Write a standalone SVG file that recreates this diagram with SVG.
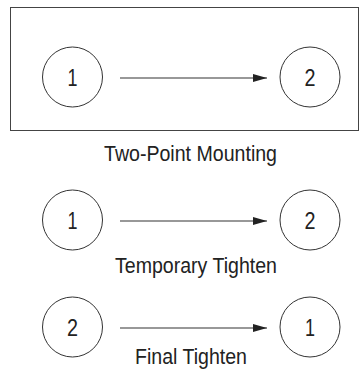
<svg xmlns="http://www.w3.org/2000/svg" width="359" height="369" viewBox="0 0 359 369">
<style>
.c{fill:#fff;stroke:#333;stroke-width:1}
.n{font-family:"Liberation Sans",Arial,sans-serif;font-size:24px;fill:#222;text-anchor:middle}
.t{font-family:"Liberation Sans",Arial,sans-serif;font-size:22px;fill:#222}
.e{stroke:#333;stroke-width:1.2;fill:none;marker-end:url(#ah)}
</style>
<defs>
<marker id="ah" markerWidth="14" markerHeight="8" refX="14" refY="4" orient="auto" markerUnits="userSpaceOnUse">
<path d="M0,0 L14,4 L0,8 Z" fill="#222"/>
</marker>
</defs>
<rect x="10.5" y="7.5" width="348" height="123" fill="none" stroke="#444" stroke-width="1"/>
<g id="connectors">
<line class="e" x1="120" y1="78" x2="267" y2="78"/>
<line class="e" x1="120" y1="221" x2="267" y2="221"/>
<line class="e" x1="120" y1="328" x2="267" y2="328"/>
</g>
<g id="a1"><circle class="c" cx="72.5" cy="77" r="30"/><text class="n" x="72.5" y="85.5" textLength="10" lengthAdjust="spacingAndGlyphs">1</text></g>
<g id="a2"><circle class="c" cx="310" cy="77" r="30"/><text class="n" x="310" y="85.5" textLength="11" lengthAdjust="spacingAndGlyphs">2</text></g>
<g id="b1"><circle class="c" cx="72.5" cy="220" r="30"/><text class="n" x="72.5" y="228.5" textLength="10" lengthAdjust="spacingAndGlyphs">1</text></g>
<g id="b2"><circle class="c" cx="310" cy="220" r="30"/><text class="n" x="310" y="228.5" textLength="11" lengthAdjust="spacingAndGlyphs">2</text></g>
<g id="c2"><circle class="c" cx="72.5" cy="327" r="30"/><text class="n" x="72.5" y="335.5" textLength="11" lengthAdjust="spacingAndGlyphs">2</text></g>
<g id="c1"><circle class="c" cx="310" cy="327" r="30"/><text class="n" x="310" y="335.5" textLength="10" lengthAdjust="spacingAndGlyphs">1</text></g>
<text class="t" x="104" y="161" textLength="173" lengthAdjust="spacingAndGlyphs">Two-Point Mounting</text>
<text class="t" x="115" y="273" textLength="162" lengthAdjust="spacingAndGlyphs">Temporary Tighten</text>
<text class="t" x="135" y="363.5" textLength="112" lengthAdjust="spacingAndGlyphs">Final Tighten</text>
</svg>
